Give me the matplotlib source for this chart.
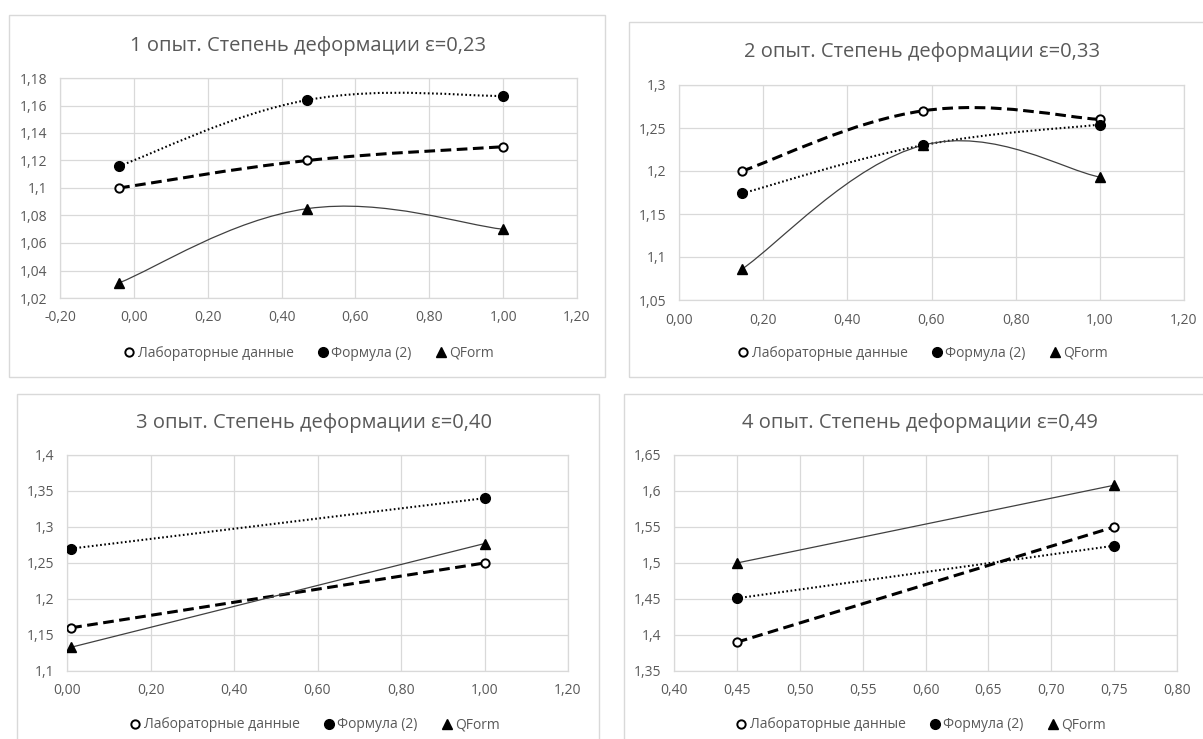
import numpy as np
import matplotlib.pyplot as plt
from matplotlib.path import Path
from matplotlib.patches import PathPatch, Rectangle
from matplotlib.ticker import FuncFormatter, MultipleLocator

plt.rcParams['font.family'] = ['Open Sans', 'DejaVu Sans']

W, H = 1203, 739

series_names = ["Лабораторные данные", "Формула (2)", "QForm"]
titles = ["1 опыт. Степень деформации ε=0,23",
          "2 опыт. Степень деформации ε=0,33",
          "3 опыт. Степень деформации ε=0,40",
          "4 опыт. Степень деформации ε=0,49"]

# experiment 1
x1 = [-0.04, 0.47, 1.00]
lab1 = [1.100, 1.120, 1.130]
form1 = [1.116, 1.164, 1.167]
qform1 = [1.031, 1.085, 1.070]

# experiment 2
x2 = [0.15, 0.58, 1.00]
lab2 = [1.200, 1.270, 1.260]
form2 = [1.174, 1.230, 1.254]
qform2 = [1.086, 1.230, 1.193]

# experiment 3
x3 = [0.01, 1.00]
lab3 = [1.160, 1.250]
form3 = [1.270, 1.340]
qform3 = [1.133, 1.277]

# experiment 4
x4 = [0.45, 0.75]
lab4 = [1.390, 1.550]
form4 = [1.451, 1.524]
qform4 = [1.500, 1.608]

xlims = [(-0.2, 1.2), (0.0, 1.2), (0.0, 1.2), (0.4, 0.8)]
xsteps = [0.2, 0.2, 0.2, 0.05]
ylims = [(1.02, 1.18), (1.05, 1.3), (1.1, 1.4), (1.35, 1.65)]
ysteps = [0.02, 0.05, 0.05, 0.05]

data = [(x1, lab1, form1, qform1), (x2, lab2, form2, qform2),
        (x3, lab3, form3, qform3), (x4, lab4, form4, qform4)]

# layout in pixels: box (l, t, r, b), plot area (l, t, r, b), title y, legend y, centre x
layout = [
    ((9, 15, 605, 377), (60, 78, 577, 298), 46, 353, 308),
    ((629, 22, 1210, 377), (679, 85, 1184, 300), 52, 353, 922),
    ((17, 394, 599, 745), (67, 455, 568, 671), 423, 725, 314),
    ((624, 394, 1210, 745), (674, 455, 1177, 671), 423, 725, 920),
]


def fx(px):
    return px / W


def fy(py):
    return 1 - py / H


def smooth_path(xs, ys, k=0.2):
    # Excel-like smoothed line: cubic Bezier through the points
    pts = np.column_stack([xs, ys])
    n = len(pts)
    verts = [pts[0]]
    codes = [Path.MOVETO]
    for i in range(n - 1):
        p0 = pts[max(i - 1, 0)]
        p1 = pts[i]
        p2 = pts[i + 1]
        p3 = pts[min(i + 2, n - 1)]
        verts += [p1 + (p2 - p0) * k, p2 - (p3 - p1) * k, p2]
        codes += [Path.CURVE4] * 3
    return Path(verts, codes)


def fmt_y(v, pos):
    s = f"{v:.2f}".rstrip('0').rstrip('.')
    return s.replace('.', ',')


def fmt_x(v, pos):
    if abs(v) < 1e-9:
        v = 0.0
    return f"{v:.2f}".replace('.', ',')


fig = plt.figure(figsize=(W / 100, H / 100), dpi=100)
grey = '#595959'

for i in range(4):
    box, area, ty, ly, cx = layout[i]
    fig.add_artist(Rectangle((fx(box[0]), fy(box[3])), fx(box[2] - box[0]), (box[3] - box[1]) / H,
                             transform=fig.transFigure, fill=False, edgecolor='#d9d9d9', lw=1))
    ax = fig.add_axes([fx(area[0]), fy(area[3]), fx(area[2] - area[0]), (area[3] - area[1]) / H])
    xs, lab, form, qf = data[i]

    ax.add_patch(PathPatch(smooth_path(xs, lab), fill=False, edgecolor='black', lw=2.2,
                           linestyle=(0, (3.5, 1.8)), zorder=2))
    ax.add_patch(PathPatch(smooth_path(xs, form), fill=False, edgecolor='black', lw=1.5,
                           linestyle=(0, (0.8, 1.2)), zorder=2))
    ax.add_patch(PathPatch(smooth_path(xs, qf), fill=False, edgecolor='#404040', lw=0.9,
                           zorder=2))

    ax.plot(xs, lab, 'o', ms=6, mfc='white', mec='black', mew=1.4, zorder=3,
            label=series_names[0])
    ax.plot(xs, form, 'o', ms=7, color='black', zorder=3, label=series_names[1])
    ax.plot(xs, qf, '^', ms=6.5, color='black', zorder=3, label=series_names[2])

    ax.set_xlim(*xlims[i])
    ax.set_ylim(*ylims[i])
    ax.xaxis.set_major_locator(MultipleLocator(xsteps[i]))
    ax.yaxis.set_major_locator(MultipleLocator(ysteps[i]))
    ax.xaxis.set_major_formatter(FuncFormatter(fmt_x))
    ax.yaxis.set_major_formatter(FuncFormatter(fmt_y))
    ax.grid(color='#d9d9d9', lw=0.9)
    ax.set_axisbelow(True)
    for sp in ax.spines.values():
        sp.set_color('#d9d9d9')
        sp.set_linewidth(0.9)
    ax.tick_params(length=0, pad=9, labelsize=10, labelcolor=grey)

    fig.text(fx(cx), fy(ty), titles[i], ha='center', va='center', fontsize=14.5, color=grey)
    ax.legend(loc='center', bbox_to_anchor=(fx(cx), fy(ly)), bbox_transform=fig.transFigure,
              ncol=3, frameon=False, fontsize=10, handletextpad=0.1, columnspacing=1.6,
              handlelength=1.0, labelcolor=grey)

fig.savefig('out.png', dpi=100)
